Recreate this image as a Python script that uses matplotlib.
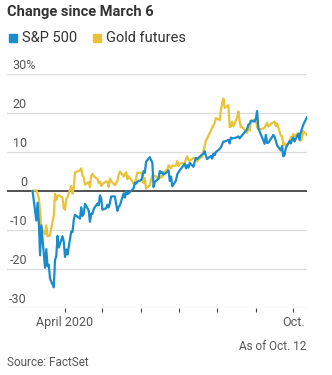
import matplotlib
matplotlib.use("Agg")
import matplotlib.pyplot as plt
import matplotlib.dates as mdates
from matplotlib import font_manager
import pandas as pd

# ---- data: % change since March 6, 2020 ----
dates = pd.to_datetime([
    "2020-03-06", "2020-03-09", "2020-03-10", "2020-03-11", "2020-03-12", "2020-03-13",
    "2020-03-16", "2020-03-17", "2020-03-18", "2020-03-19", "2020-03-20",
    "2020-03-23", "2020-03-24", "2020-03-25", "2020-03-26", "2020-03-27",
    "2020-03-30", "2020-03-31", "2020-04-01", "2020-04-02", "2020-04-03",
    "2020-04-06", "2020-04-07", "2020-04-08", "2020-04-09",
    "2020-04-13", "2020-04-14", "2020-04-15", "2020-04-16", "2020-04-17",
    "2020-04-20", "2020-04-21", "2020-04-22", "2020-04-23", "2020-04-24",
    "2020-04-27", "2020-04-28", "2020-04-29", "2020-04-30", "2020-05-01",
    "2020-05-04", "2020-05-05", "2020-05-06", "2020-05-07", "2020-05-08",
    "2020-05-11", "2020-05-12", "2020-05-13", "2020-05-14", "2020-05-15",
    "2020-05-18", "2020-05-19", "2020-05-20", "2020-05-21", "2020-05-22",
    "2020-05-26", "2020-05-27", "2020-05-28", "2020-05-29",
    "2020-06-01", "2020-06-02", "2020-06-03", "2020-06-04", "2020-06-05",
    "2020-06-08", "2020-06-09", "2020-06-10", "2020-06-11", "2020-06-12",
    "2020-06-15", "2020-06-16", "2020-06-17", "2020-06-18", "2020-06-19",
    "2020-06-22", "2020-06-23", "2020-06-24", "2020-06-25", "2020-06-26",
    "2020-06-29", "2020-06-30", "2020-07-01", "2020-07-02",
    "2020-07-06", "2020-07-07", "2020-07-08", "2020-07-09", "2020-07-10",
    "2020-07-13", "2020-07-14", "2020-07-15", "2020-07-16", "2020-07-17",
    "2020-07-20", "2020-07-21", "2020-07-22", "2020-07-23", "2020-07-24",
    "2020-07-27", "2020-07-28", "2020-07-29", "2020-07-30", "2020-07-31",
    "2020-08-03", "2020-08-04", "2020-08-05", "2020-08-06", "2020-08-07",
    "2020-08-10", "2020-08-11", "2020-08-12", "2020-08-13", "2020-08-14",
    "2020-08-17", "2020-08-18", "2020-08-19", "2020-08-20", "2020-08-21",
    "2020-08-24", "2020-08-25", "2020-08-26", "2020-08-27", "2020-08-28",
    "2020-08-31", "2020-09-01", "2020-09-02", "2020-09-03", "2020-09-04",
    "2020-09-08", "2020-09-09", "2020-09-10", "2020-09-11",
    "2020-09-14", "2020-09-15", "2020-09-16", "2020-09-17", "2020-09-18",
    "2020-09-21", "2020-09-22", "2020-09-23", "2020-09-24", "2020-09-25",
    "2020-09-28", "2020-09-29", "2020-09-30", "2020-10-01", "2020-10-02",
    "2020-10-05", "2020-10-06", "2020-10-07", "2020-10-08", "2020-10-09",
    "2020-10-12",
])

sp500 = [
    0.0, -7.6, -3.0, -7.8, -16.5, -8.8,
    -19.7, -14.9, -19.3, -18.9, -22.5,
    -24.7, -17.7, -16.7, -11.5, -14.5,
    -11.6, -13.0, -16.9, -15.0, -16.3,
    -10.4, -10.5, -7.5, -6.1,
    -7.1, -4.2, -6.4, -5.8, -3.3,
    -5.0, -7.9, -5.8, -5.9, -4.6,
    -3.2, -3.7, -1.1, -2.0, -4.8,
    -4.4, -3.5, -4.2, -3.1, -1.4,
    -1.4, -3.4, -5.1, -4.0, -3.7,
    -0.6, -1.7, 0.0, -0.8, -0.6,
    0.7, 2.1, 1.9, 2.4,
    2.8, 3.6, 5.1, 4.7, 7.5,
    8.7, 7.9, 7.3, 1.0, 2.3,
    3.2, 5.1, 4.7, 4.8, 4.2,
    4.9, 5.3, 2.6, 3.7, 1.2,
    2.7, 4.3, 4.8, 5.3,
    7.0, 5.8, 6.6, 6.0, 7.2,
    6.2, 7.6, 8.5, 8.2, 8.5,
    9.4, 9.6, 10.2, 8.9, 8.2,
    9.0, 8.3, 9.6, 9.2, 10.0,
    10.8, 11.2, 12.0, 12.7, 12.7,
    13.1, 12.2, 13.7, 13.5, 13.5,
    13.8, 14.0, 13.5, 13.9, 14.3,
    15.4, 15.9, 17.0, 17.2, 18.0,
    17.8, 18.6, 20.5, 16.2, 15.3,
    12.1, 14.4, 12.3, 12.4,
    13.8, 14.4, 13.9, 12.9, 11.7,
    10.4, 11.5, 8.9, 9.2, 11.0,
    12.8, 12.2, 13.1, 13.7, 12.7,
    14.7, 13.1, 15.0, 16.0, 17.0,
    18.9,
]

gold = [
    0.0, 0.2, -0.7, -1.8, -4.9, -9.3,
    -11.1, -8.8, -11.6, -11.6, -11.2,
    -6.3, -0.7, -2.3, -1.3, -1.1,
    -1.7, -4.5, -4.8, -2.1, -1.6,
    1.3, -0.7, 0.7, 4.8,
    5.3, 5.8, 3.9, 3.5, 1.6,
    2.3, 1.0, 3.9, 4.4, 3.8,
    3.1, 2.1, 2.4, 1.3, 1.7,
    2.5, 2.3, 1.0, 3.2, 2.5,
    1.5, 2.0, 2.6, 4.1, 5.0,
    3.7, 4.4, 4.8, 3.0, 3.8,
    1.9, 2.2, 3.3, 4.7,
    4.7, 3.7, 2.0, 3.3, 0.6,
    1.5, 2.9, 3.9, 4.0, 3.9,
    3.2, 3.3, 3.8, 3.5, 4.8,
    5.5, 6.6, 6.2, 5.8, 6.5,
    6.5, 7.7, 6.4, 7.0,
    7.2, 8.2, 8.9, 7.9, 7.7,
    8.5, 8.4, 8.3, 7.6, 8.2,
    8.7, 10.2, 11.5, 13.0, 13.5,
    15.5, 16.3, 16.8, 17.5, 18.7,
    18.2, 20.8, 22.5, 23.7, 21.3,
    22.0, 16.4, 16.5, 17.8, 16.6,
    18.8, 20.4, 17.8, 16.4, 16.4,
    15.3, 14.9, 16.8, 15.5, 18.0,
    18.3, 18.3, 16.3, 15.9, 15.7,
    16.2, 16.9, 17.5, 16.5,
    17.5, 17.6, 17.8, 16.6, 17.3,
    14.2, 14.1, 11.7, 12.2, 11.6,
    12.6, 13.8, 13.3, 14.6, 14.1,
    14.8, 14.1, 12.9, 13.3, 15.4,
    14.3,
]

series_names = ["S&P 500", "Gold futures"]
y_ticks = [-30, -20, -10, 0, 10, 20, 30]
x_tick_months = pd.date_range("2020-04-01", "2020-10-01", freq="MS")
x_tick_labels = {pd.Timestamp("2020-04-01"): "April 2020", pd.Timestamp("2020-10-01"): "Oct."}

title = "Change since March 6"
source = "Source: FactSet"
as_of = "As of Oct. 12"

# ---- style ----
BLUE = "#1a8ccc"
GOLD = "#e8c337"
GRID = "#dcdcdc"
TXT = "#333333"
GRAY = "#555555"

available = {f.name for f in font_manager.fontManager.ttflist}
for fam in ["Liberation Sans Narrow", "Roboto", "Lato", "DejaVu Sans"]:
    if fam in available:
        FONT = fam
        break
plt.rcParams["font.family"] = [FONT, "DejaVu Sans"]

W, H = 332, 375
fig = plt.figure(figsize=(W / 100, H / 100), dpi=100)

def fx(px):
    return px / W

def fy(py):
    return 1 - py / H

ax_left, ax_right, ax_top, ax_bottom = 7, 307, 74, 308
ax = fig.add_axes([fx(ax_left), fy(ax_bottom), fx(ax_right - ax_left), fy(ax_top) - fy(ax_bottom)])

start = dates[0]
end = dates[-1]
ax.set_xlim(mdates.date2num(start - pd.Timedelta(days=20.5)), mdates.date2num(end))
ax.set_ylim(-30, 30)

for v in y_ticks:
    if v == 0:
        continue
    ax.axhline(v, color=GRID, lw=0.9, zorder=1)
ax.axhline(0, color="#222222", lw=1.1, zorder=2)

ax.plot(dates, gold, color=GOLD, lw=1.6, zorder=3, solid_joinstyle="round")
ax.plot(dates, sp500, color=BLUE, lw=1.6, zorder=4, solid_joinstyle="round")

for s in ax.spines.values():
    s.set_visible(False)
ax.set_yticks([])
ax.set_xticks(x_tick_months)
ax.set_xticklabels([])
ax.tick_params(axis="x", length=3, width=0.8, color="#444444", direction="out", pad=2)

# y labels sit just above each gridline; the top one carries the unit
for v in y_ticks:
    if v == y_ticks[-1]:
        ax.annotate(f"{v}%", xy=(0, v), xycoords=("axes fraction", "data"),
                    xytext=(5, 2), textcoords="offset pixels",
                    ha="left", va="bottom", fontsize=9, color=GRAY)
    else:
        ax.annotate(f"{v}", xy=(0, v), xycoords=("axes fraction", "data"),
                    xytext=(20, 2), textcoords="offset pixels",
                    ha="right", va="bottom", fontsize=9, color=GRAY)

for d, lbl in x_tick_labels.items():
    ax.annotate(lbl, xy=(mdates.date2num(d), 0), xycoords=("data", "axes fraction"),
                xytext=(0, -8), textcoords="offset pixels",
                ha="center", va="top", fontsize=9, color=GRAY)

fig.text(fx(7), fy(12), title, fontsize=10.5, fontweight="bold", color=TXT, va="center", ha="left")

# legend swatches
leg_y = 37.5
sw = 8
for name, col, x0 in zip(series_names, [BLUE, GOLD], [9, 93]):
    fig.patches.append(plt.Rectangle((fx(x0), fy(leg_y + sw / 2)), fx(sw), fy(leg_y - sw / 2) - fy(leg_y + sw / 2),
                                     transform=fig.transFigure, color=col, figure=fig))
    fig.text(fx(x0 + sw + 5), fy(leg_y), name, fontsize=10.5, color=TXT, va="center", ha="left")

fig.text(fx(306), fy(346), as_of, fontsize=8.5, color=GRAY, ha="right", va="center")
fig.text(fx(7), fy(363), source, fontsize=8.5, color=GRAY, ha="left", va="center")

fig.savefig("out.png", dpi=100)
